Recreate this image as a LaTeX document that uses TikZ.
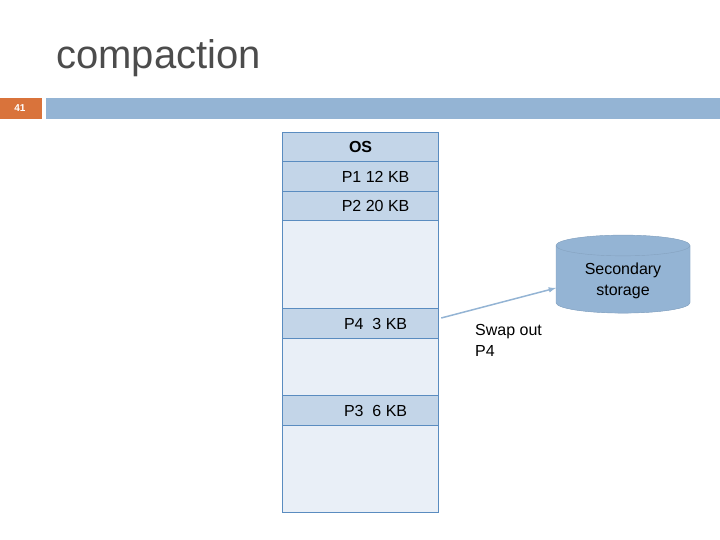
\documentclass[tikz,border=0pt]{standalone}
\usepackage{fontspec}
\setmainfont{Liberation Sans}
\usetikzlibrary{shapes.geometric,arrows.meta}
\definecolor{barblue}{HTML}{94B4D4}
\definecolor{slotblue}{HTML}{C3D5E8}
\definecolor{freeblue}{HTML}{E9EFF7}
\definecolor{lineblue}{HTML}{5A8CC0}
\definecolor{numorange}{HTML}{D9733B}
\begin{document}
\begin{tikzpicture}[x=1pt,y=-1pt,>=latex,
  slot/.style={draw=lineblue,line width=1.2pt,fill=slotblue,minimum width=156pt,inner sep=0pt,anchor=north west,font=\fontsize{16}{19}\selectfont},
  free/.style={slot,fill=freeblue}]
        % page frame
        \useasboundingbox (0,0) rectangle (720,540);
        \node[anchor=west,font=\fontsize{40}{46}\selectfont,text=black!70,inner sep=0pt] (title) at (56,58) {compaction};
        \fill[numorange] (0,98) rectangle (42,119);
        \node[font=\bfseries\fontsize{10}{11}\selectfont,text=white] (num) at (20,108.5) {41};
        \fill[barblue] (46,98) rectangle (720,119);

        % memory layout
        \node[slot,minimum height=29pt] (os) at (282,132) {\textbf{OS}};
        \node[slot,minimum height=30pt] (p1) at (282,161) {\hspace*{30pt}P1 12 KB};
        \node[slot,minimum height=29pt] (p2) at (282,191) {\hspace*{30pt}P2 20 KB};
        \node[free,minimum height=88pt] (h1) at (282,220) {};
        \node[slot,minimum height=30pt] (p4) at (282,308) {\hspace*{30pt}P4\ \ 3 KB};
        \node[free,minimum height=57pt] (h2) at (282,338) {};
        \node[slot,minimum height=30pt] (p3) at (282,395) {\hspace*{30pt}P3\ \ 6 KB};
        \node[free,minimum height=87pt] (h3) at (282,425) {};

        % secondary storage
        \node[cylinder,shape border rotate=90,aspect=0.25,draw=barblue!90!black,fill=barblue,
              cylinder uses custom fill,cylinder end fill=slotblue,cylinder body fill=barblue,
              minimum width=134pt,minimum height=78pt,align=center,
              font=\fontsize{16}{21}\selectfont] (disk) at (623,281) {Secondary\\storage};
        \coordinate (diskin) at (556,288);
        \draw[->,barblue,line width=1.5pt] (p4.north east) ++(2,10) -- (diskin);
        \node[anchor=north west,align=left,font=\fontsize{16}{21}\selectfont,inner sep=0pt] (swap) at (475,324) {Swap out\\ P4};
\end{tikzpicture}
\end{document}
